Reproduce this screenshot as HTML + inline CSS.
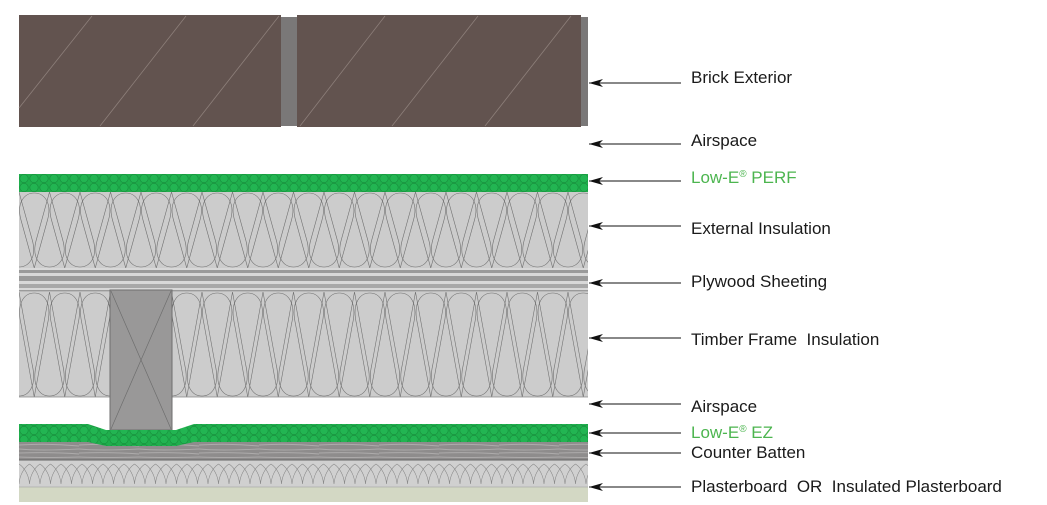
<!DOCTYPE html>
<html><head><meta charset="utf-8"><style>
html,body{margin:0;padding:0;background:#fff;width:1047px;height:505px;overflow:hidden}
svg{display:block}
text{font-family:"Liberation Sans",Arial,sans-serif;font-size:17px;fill:#1a1a1a;white-space:pre}
</style></head><body>
<svg width="1047" height="505" viewBox="0 0 1047 505" xmlns="http://www.w3.org/2000/svg" xml:space="preserve">
<defs>
<pattern id="ins" x="19" y="192" width="30.5" height="76" patternUnits="userSpaceOnUse">
<g fill="none" stroke="#707070" stroke-width="0.6">
<path d="M15.25,76 L2,28 C-3,10 6,1 15.25,1 C24.5,1 33.5,10 28.5,28 Z"/>
<path d="M0,0 L13.25,48 C18.25,66 9.25,75 0,75 C-9.25,75 -18.25,66 -13.25,48 Z"/>
<path d="M30.5,0 L43.75,48 C48.75,66 39.75,75 30.5,75 C21.25,75 12.25,66 17.25,48 Z"/>
</g>
</pattern>
<pattern id="ins2" x="19" y="292" width="30.5" height="105" patternUnits="userSpaceOnUse">
<g fill="none" stroke="#707070" stroke-width="0.6">
<path d="M15.25,105 L2,32 C-3,10 6,1 15.25,1 C24.5,1 33.5,10 28.5,32 Z"/>
<path d="M0,0 L13.25,73 C18.25,95 9.25,104 0,104 C-9.25,104 -18.25,95 -13.25,73 Z"/>
<path d="M30.5,0 L43.75,73 C48.75,95 39.75,104 30.5,104 C21.25,104 12.25,95 17.25,73 Z"/>
</g>
</pattern>
<pattern id="zz" x="19" y="460" width="21" height="27" patternUnits="userSpaceOnUse">
<g fill="none" stroke="#8a8a8a" stroke-width="0.6">
<path d="M0,4 C6,8 10,16 10.5,24 M21,4 C15,8 11,16 10.5,24 M10.5,4 C4.5,8 0.5,16 0,24 M10.5,4 C16.5,8 20.5,16 21,24"/>
</g>
</pattern>
<pattern id="grn" x="19" y="174" width="10" height="9" patternUnits="userSpaceOnUse">
<rect width="10" height="9" fill="#1fae4c"/>
<circle cx="5" cy="4.5" r="4.2" fill="#22b552" stroke="#168a3a" stroke-width="0.6"/>
</pattern>
<pattern id="wood" x="19" y="442" width="60" height="18" patternUnits="userSpaceOnUse">
<rect width="60" height="18" fill="#8e8c8c"/>
<path d="M0,3 Q30,1 60,4 M0,7 Q20,9 60,7 M0,11 Q35,10 60,12 M0,15 Q25,16 60,15" stroke="#adabab" stroke-width="1" fill="none"/>
</pattern>
<marker id="ah" markerWidth="14" markerHeight="8" refX="0" refY="4" orient="auto" markerUnits="userSpaceOnUse">
<path d="M0,4 L14,0 L10,4 L14,8 Z" fill="#111"/>
</marker>
</defs>
<rect x="19" y="15" width="262" height="112" fill="#62534f"/>
<rect x="281" y="17" width="16" height="109" fill="#7a7878"/>
<rect x="297" y="15" width="284" height="112" fill="#62534f"/>
<rect x="581" y="17" width="7" height="109" fill="#7a7878"/>
<g stroke="#8d7f7a" stroke-width="0.8">
<line x1="92" y1="16" x2="19" y2="108"/><line x1="186" y1="16" x2="100" y2="126"/><line x1="279" y1="16" x2="193" y2="126"/>
<line x1="385" y1="16" x2="300" y2="126"/><line x1="478" y1="16" x2="392" y2="126"/><line x1="571" y1="16" x2="485" y2="126"/>
</g>
<rect x="19" y="174" width="569" height="18" fill="url(#grn)"/>
<rect x="19" y="192" width="569" height="76" fill="#cccccc"/>
<rect x="19" y="192" width="569" height="76" fill="url(#ins)"/>
<rect x="19" y="268" width="569" height="24" fill="#d8d8d8"/>
<rect x="19" y="270" width="569" height="3" fill="#9a9a9a"/>
<rect x="19" y="276" width="569" height="5" fill="#9a9a9a"/>
<rect x="19" y="284" width="569" height="4" fill="#a8a8a8"/>
<rect x="19" y="290" width="569" height="1.5" fill="#9a9a9a"/>
<rect x="19" y="292" width="569" height="105" fill="#cccccc"/>
<rect x="19" y="292" width="569" height="105" fill="url(#ins2)"/>
<line x1="19" y1="397" x2="588" y2="397" stroke="#888" stroke-width="0.8"/>
<rect x="110" y="290" width="62" height="140" fill="#999898" stroke="#6e6e6e" stroke-width="1"/>
<path d="M111,291 L171,429 M171,291 L111,429" stroke="#6e6e6e" stroke-width="0.7"/>
<rect x="19" y="442" width="569" height="18" fill="url(#wood)"/>
<path d="M19,424 L88,424 L106,430 L176,430 L194,424 L588,424 L588,442 L194,442 L176,446 L106,446 L88,442 L19,442 Z" fill="url(#grn)"/>
<rect x="19" y="460" width="569" height="27" fill="#d0d0d0"/>
<rect x="19" y="460" width="569" height="27" fill="url(#zz)"/>
<line x1="19" y1="460" x2="588" y2="460" stroke="#666" stroke-width="1"/>
<rect x="19" y="487" width="569" height="15" fill="#d3d8c4"/>
<line x1="19" y1="487" x2="588" y2="487" stroke="#999" stroke-width="0.6"/>
<g stroke="#111" stroke-width="1" marker-start="url(#ah)">
<line x1="589" y1="83" x2="681" y2="83"/>
<line x1="589" y1="144" x2="681" y2="144"/>
<line x1="589" y1="181" x2="681" y2="181"/>
<line x1="589" y1="226" x2="681" y2="226"/>
<line x1="589" y1="283" x2="681" y2="283"/>
<line x1="589" y1="338" x2="681" y2="338"/>
<line x1="589" y1="404" x2="681" y2="404"/>
<line x1="589" y1="433" x2="681" y2="433"/>
<line x1="589" y1="453" x2="681" y2="453"/>
<line x1="589" y1="487" x2="681" y2="487"/>
</g>
<text x="691" y="83">Brick Exterior</text>
<text x="691" y="146">Airspace</text>
<text x="691" y="183" style="fill:#4cb54f">Low-E<tspan font-size="10" dy="-6">®</tspan><tspan dy="6"> PERF</tspan></text>
<text x="691" y="234">External Insulation</text>
<text x="691" y="287">Plywood Sheeting</text>
<text x="691" y="345">Timber Frame  Insulation</text>
<text x="691" y="412">Airspace</text>
<text x="691" y="438" style="fill:#4cb54f">Low-E<tspan font-size="10" dy="-6">®</tspan><tspan dy="6"> EZ</tspan></text>
<text x="691" y="458">Counter Batten</text>
<text x="691" y="492">Plasterboard  OR  Insulated Plasterboard</text>
</svg>
</body></html>
